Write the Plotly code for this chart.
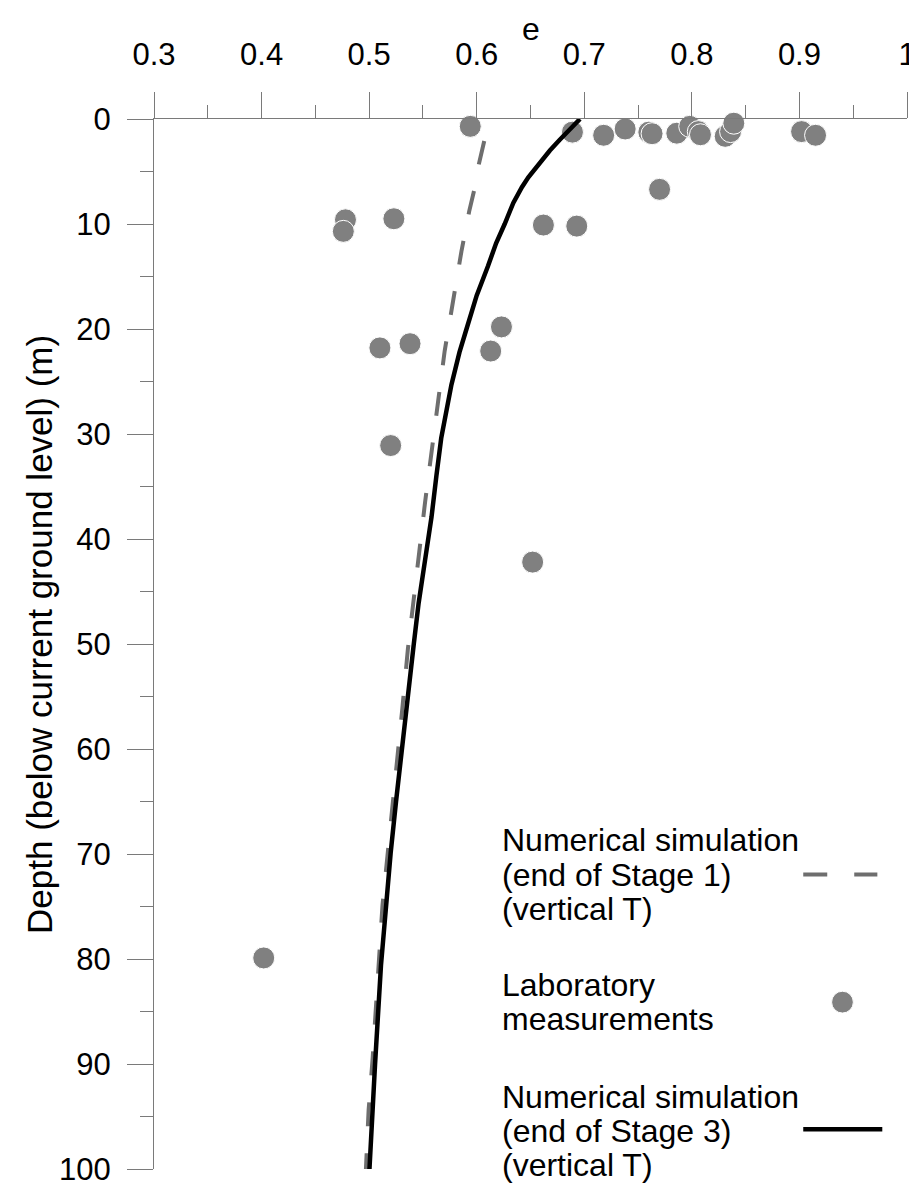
import plotly.graph_objects as go

# ---------------- data ----------------
lab_e = [0.594, 0.689, 0.718, 0.738, 0.760, 0.763, 0.786, 0.798, 0.806, 0.808,
         0.831, 0.836, 0.839, 0.902, 0.915, 0.770, 0.662, 0.693, 0.478, 0.476,
         0.523, 0.510, 0.538, 0.623, 0.613, 0.520, 0.652, 0.402]
lab_d = [0.7, 1.25, 1.55, 0.95, 1.25, 1.4, 1.35, 0.7, 1.2, 1.5,
         1.65, 1.2, 0.4, 1.2, 1.55, 6.7, 10.1, 10.2, 9.6, 10.7,
         9.5, 21.8, 21.4, 19.8, 22.1, 31.1, 42.2, 79.9]

stage1_d = [2.1, 4.3, 6.8, 8.8, 12.6, 17.4, 22.1, 26.9, 31.6, 36.5, 41.3, 45.6,
            50.5, 56.3, 60.7, 65.5, 70.2, 74.9, 79.8, 84.7, 89.4, 94.4, 100.0]
stage1_e = [0.607, 0.602, 0.5976, 0.593, 0.5858, 0.5778, 0.5702, 0.5641, 0.558,
            0.552, 0.5465, 0.5413, 0.536, 0.5307, 0.5261, 0.5216, 0.517, 0.5124,
            0.5094, 0.5064, 0.5033, 0.4995, 0.497]

stage3_d = [0, 1, 2, 3, 4, 5, 5.56, 6.5, 8, 10, 11.84, 14, 16.8, 20, 22.2, 25.3,
            28, 30.4, 34, 37.9, 42, 46.1, 50, 55.5, 60, 65, 69.9, 80.6, 90, 100]
stage3_e = [0.696, 0.686, 0.677, 0.668, 0.660, 0.652, 0.648, 0.642, 0.634, 0.626,
            0.618, 0.6105, 0.600, 0.5905, 0.584, 0.5765, 0.571, 0.567, 0.5625,
            0.558, 0.552, 0.546, 0.5415, 0.5352, 0.530, 0.525, 0.520, 0.511,
            0.5055, 0.5003]

x_ticks = [0.3, 0.4, 0.5, 0.6, 0.7, 0.8, 0.9, 1.0]
x_ticktext = ["0.3", "0.4", "0.5", "0.6", "0.7", "0.8", "0.9", "1"]
y_ticks = [0, 10, 20, 30, 40, 50, 60, 70, 80, 90, 100]

leg1 = ["Numerical simulation", "(end of Stage 1)", "(vertical T)"]
leg2 = ["Laboratory", "measurements"]
leg3 = ["Numerical simulation", "(end of Stage 3)", "(vertical T)"]

# ---------------- layout geometry ----------------
W, H = 917, 1188
L, R, T, B = 146, 9, 111, 18
PW, PH = W - L - R, H - T - B


def px_x(px):
    return (px - L) / PW


def px_y(py):
    return 1 - (py - T) / PH


FONT = "Liberation Sans, Arial, sans-serif"
GRAY = "#808080"
AXC = "#7a7a7a"

fig = go.Figure()

fig.add_trace(go.Scatter(
    x=lab_e, y=lab_d, mode="markers", cliponaxis=False, showlegend=False,
    marker=dict(size=22, color=GRAY, line=dict(color="white", width=1))))

fig.add_trace(go.Scatter(
    x=stage1_e, y=stage1_d, mode="lines", showlegend=False,
    line=dict(color="#6e6e6e", width=4, dash="24px,27px")))

fig.add_trace(go.Scatter(
    x=stage3_e, y=stage3_d, mode="lines", showlegend=False,
    line=dict(color="black", width=4.5)))

fig.update_layout(
    width=W, height=H,
    margin=dict(l=L, r=R, t=T, b=B),
    paper_bgcolor="white", plot_bgcolor="white",
    font=dict(family=FONT, color="black", size=31),
    showlegend=False,
)

fig.update_xaxes(
    side="top", range=[0.3, 1.0], showgrid=False, zeroline=False,
    showline=True, linecolor=AXC, linewidth=1.3,
    ticks="outside", ticklen=26, tickwidth=1.3, tickcolor=AXC,
    tickvals=x_ticks, ticktext=x_ticktext,
    tickfont=dict(size=31, family=FONT, color="black"),
    ticklabelstandoff=14, ticklabeloverflow="allow",
    minor=dict(dtick=0.05, tick0=0.3, ticks="outside", ticklen=13,
               tickwidth=1.3, tickcolor=AXC, showgrid=False),
)
fig.update_yaxes(
    range=[100, 0], showgrid=False, zeroline=False,
    showline=True, linecolor=AXC, linewidth=1.3,
    ticks="outside", ticklen=26, tickwidth=1.3, tickcolor=AXC,
    tickvals=y_ticks,
    tickfont=dict(size=31, family=FONT, color="black"),
    ticklabelstandoff=10, ticklabeloverflow="allow",
    minor=dict(dtick=5, tick0=0, ticks="outside", ticklen=13,
               tickwidth=1.3, tickcolor=AXC, showgrid=False),
)

ann = []
ann.append(dict(text="e", x=0.5, y=px_y(20), xref="paper", yref="paper",
                xanchor="center", yanchor="middle", showarrow=False,
                font=dict(size=32, family=FONT, color="black")))
ann.append(dict(text="Depth (below current ground level) (m)", x=px_x(30), y=px_y(631),
                xref="paper", yref="paper", xanchor="center", yanchor="middle",
                textangle=-90, showarrow=False,
                font=dict(size=35, family=FONT, color="black")))

TX = px_x(496)
for lines, ys in ((leg1, [838, 873, 908]), (leg2, [984, 1019]), (leg3, [1097, 1132, 1166])):
    for t, yy in zip(lines, ys):
        ann.append(dict(text=t, x=TX, y=px_y(yy), xref="paper", yref="paper",
                        xanchor="left", yanchor="middle", showarrow=False,
                        font=dict(size=32, family=FONT, color="black")))
fig.update_layout(annotations=ann)

shapes = []
# legend samples
shapes.append(dict(type="line", xref="paper", yref="paper",
                   x0=px_x(803), x1=px_x(878), y0=px_y(873), y1=px_y(873),
                   line=dict(color="#6e6e6e", width=4, dash="24px,27px")))
shapes.append(dict(type="circle", xref="paper", yref="paper",
                   x0=px_x(831.7), x1=px_x(853.7), y0=px_y(990.7), y1=px_y(1012.7),
                   fillcolor=GRAY, line=dict(color="white", width=1)))
shapes.append(dict(type="line", xref="paper", yref="paper",
                   x0=px_x(803), x1=px_x(883), y0=px_y(1130), y1=px_y(1130),
                   line=dict(color="black", width=4.5)))
fig.update_layout(shapes=shapes)

fig.write_html("out.html")
